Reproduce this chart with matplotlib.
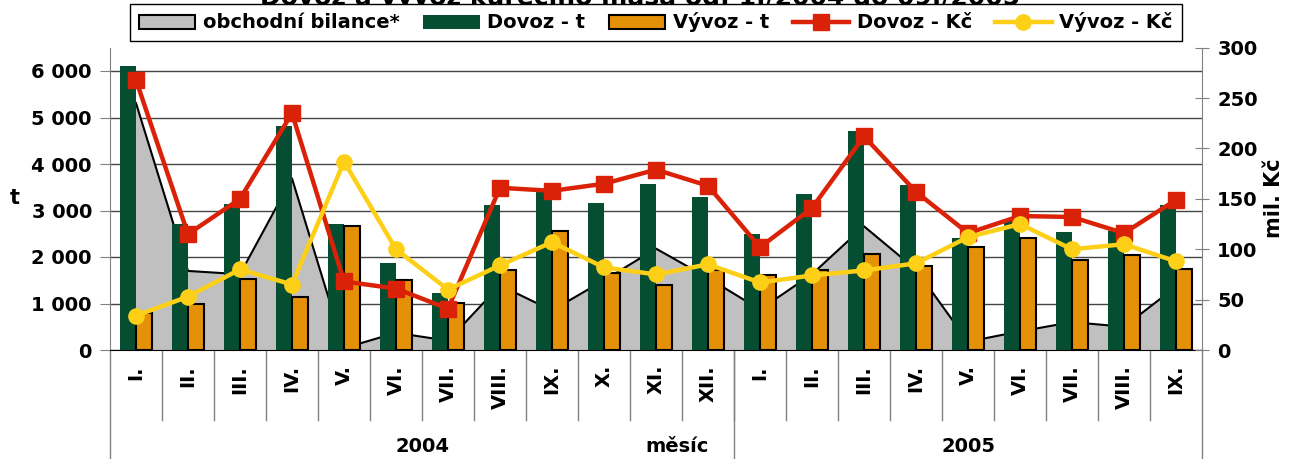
import numpy as np
import matplotlib
matplotlib.use('Agg')
import matplotlib.pyplot as plt
from matplotlib.patches import Patch
from matplotlib.lines import Line2D
from matplotlib.ticker import FuncFormatter

months = ['I.', 'II.', 'III.', 'IV.', 'V.', 'VI.', 'VII.', 'VIII.', 'IX.', 'X.', 'XI.', 'XII.',
          'I.', 'II.', 'III.', 'IV.', 'V.', 'VI.', 'VII.', 'VIII.', 'IX.']
years = ['2004', '2005']
months_per_year = [12, 9]

# tuny
dovoz_t = [6100, 2700, 3150, 4820, 2700, 1870, 1220, 3110, 3400, 3160, 3580, 3280,
           2490, 3350, 4720, 3540, 2400, 2810, 2530, 2550, 3110]
vyvoz_t = [790, 1000, 1520, 1130, 2660, 1500, 1020, 1720, 2550, 1660, 1400, 1730,
           1620, 1720, 2060, 1810, 2220, 2410, 1930, 2050, 1750]
bilance = [5310, 1700, 1630, 3690, 40, 370, 200, 1390, 850, 1500, 2180, 1550,
           870, 1630, 2660, 1730, 180, 400, 600, 500, 1360]
# mil. Kc
dovoz_kc = [268, 115, 150, 235, 68, 61, 41, 161, 158, 165, 179, 163,
            102, 141, 212, 157, 116, 133, 132, 116, 149]
vyvoz_kc = [34, 53, 80, 65, 187, 100, 60, 84, 107, 82, 75, 85,
            67, 74, 79, 86, 112, 125, 100, 105, 88]

c_green = '#064E32'
c_orange = '#E59108'
c_red = '#DA2208'
c_yellow = '#FDD017'
c_grey = '#C0C0C0'

plt.rcParams['font.family'] = 'DejaVu Sans'
plt.rcParams['font.weight'] = 'bold'
plt.rcParams['font.size'] = 14

fig = plt.figure(figsize=(12.95, 4.59), dpi=100)
ax1 = fig.add_axes([110 / 1295, 1 - 350 / 459, (1202 - 110) / 1295, (350 - 47.75) / 459])
ax2 = ax1.twinx()

x = np.arange(len(months))
w = 0.31

ax1.set_axisbelow(True)
ax1.yaxis.grid(True, color='#444444', lw=1)
ax1.fill_between(x, 0, bilance, facecolor=c_grey, edgecolor='none', zorder=1)
ax1.plot(x, bilance, color='black', lw=1.5, zorder=1.5)
ax1.bar(x - w / 2, dovoz_t, w, color=c_green, zorder=2)
ax1.bar(x + w / 2, vyvoz_t, w * 0.95, color=c_orange, edgecolor='black', lw=1.5, zorder=2)

ax2.plot(x, dovoz_kc, color=c_red, lw=3.2, marker='s', ms=11.5, zorder=3)
ax2.plot(x, vyvoz_kc, color=c_yellow, lw=3.2, marker='o', ms=11, zorder=4)

ax1.set_xlim(-0.5, len(months) - 0.5)
ax1.set_ylim(0, 6500)
ax1.set_yticks(np.arange(0, 6001, 1000))
ax1.yaxis.set_major_formatter(FuncFormatter(lambda v, p: '{:,}'.format(int(v)).replace(',', ' ')))
ax2.set_ylim(0, 300)
ax2.set_yticks(np.arange(0, 301, 50))

for a in (ax1, ax2):
    a.spines['top'].set_visible(False)
    a.spines['left'].set_color('#808080')
    a.spines['right'].set_color('#808080')
    a.spines['bottom'].set_color('black')
ax1.spines['right'].set_visible(False)
ax2.spines['left'].set_visible(False)
ax2.spines['bottom'].set_visible(False)

ax1.tick_params(axis='y', direction='out', length=7, color='#808080', labelsize=14, pad=6)
ax2.tick_params(axis='y', direction='inout', length=10, color='#808080', labelsize=14, pad=6)

ax1.set_xticks(np.arange(-0.5, len(months), 1.0))
ax1.set_xticklabels([])
ax1.tick_params(axis='x', length=0)

tr = ax1.get_xaxis_transform()
h_ax = 350 - 47.75
for i, m in enumerate(months):
    ax1.text(i, -15 / h_ax, m, rotation=90, ha='center', va='top', transform=tr, fontsize=14)
for b in np.arange(0.5, len(months) - 1, 1.0):
    ax1.plot([b, b], [0, -70 / h_ax], transform=tr, color='#808080', lw=1, clip_on=False)

start = -0.5
for yr, n in zip(years, months_per_year):
    ax1.plot([start, start], [0, -115 / h_ax], transform=tr, color='#808080', lw=1, clip_on=False)
    ax1.text(start + n / 2, -97 / h_ax, yr, ha='center', va='center', transform=tr, fontsize=14)
    start += n
ax1.plot([start, start], [0, -115 / h_ax], transform=tr, color='#808080', lw=1, clip_on=False)
ax1.text(10.4, -97 / h_ax, 'měsíc', ha='center', va='center', transform=tr, fontsize=14)

fig.text(15 / 1295, 1 - 198 / 459, 't', ha='center', va='center', fontsize=15)
fig.text(1274 / 1295, 1 - 198 / 459, 'mil. Kč', ha='center', va='center', rotation=90, fontsize=15)

# titulek je v originale z vetsi casti schovany za legendou
fig.text(640 / 1295, 1 - 5 / 459, 'Dovoz a vývoz kuřecího masa od: 1./2004 do 09./2005',
         ha='center', va='baseline', fontsize=18, zorder=1)

handles = [
    Patch(facecolor=c_grey, edgecolor='black', lw=1.5),
    Patch(facecolor=c_green, edgecolor='none'),
    Patch(facecolor=c_orange, edgecolor='black', lw=1.5),
    Line2D([], [], color=c_red, lw=3.2, marker='s', ms=11.5),
    Line2D([], [], color=c_yellow, lw=3.2, marker='o', ms=11),
]
labels = ['obchodní bilance*', 'Dovoz - t', 'Vývoz - t', 'Dovoz - Kč', 'Vývoz - Kč']
leg = fig.legend(handles, labels, loc='center', bbox_to_anchor=(656 / 1295, 1 - 22.5 / 459),
                 ncol=5, frameon=True, fancybox=False, edgecolor='black', framealpha=1,
                 handlelength=2.9, handletextpad=0.4, columnspacing=1.2,
                 borderpad=0.45, fontsize=14)
leg.get_frame().set_linewidth(1)
leg.set_zorder(5)

fig.savefig('out.png', dpi=100)
